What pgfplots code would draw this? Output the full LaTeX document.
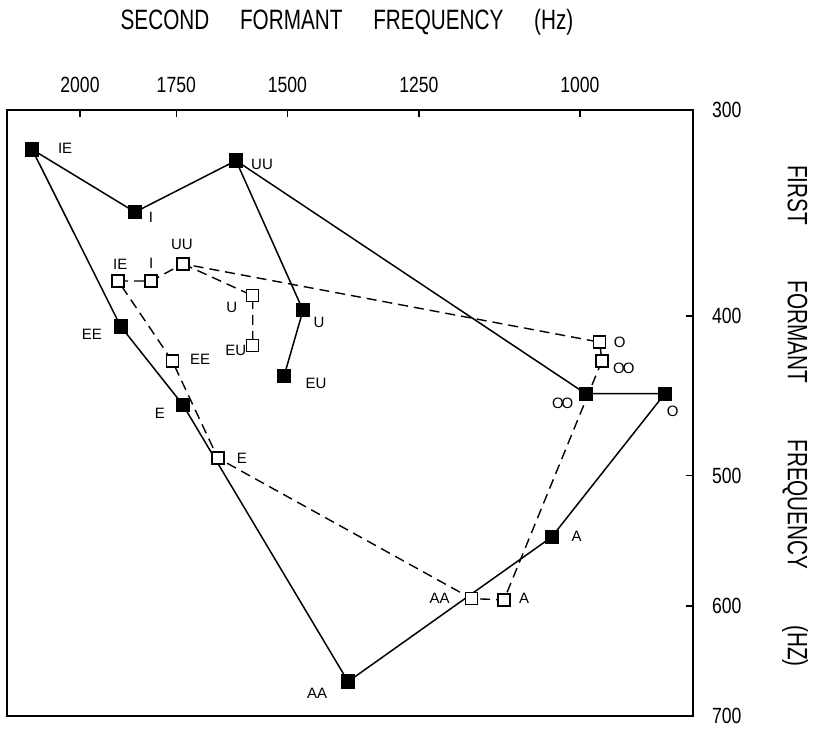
\documentclass[border=0pt]{standalone}
\usepackage{fontspec}
\setmainfont{Liberation Sans}
\newfontfamily\condfont{Liberation Sans}[FakeStretch=0.8]
\newfontfamily\titlefont{Liberation Sans}[FakeStretch=0.74]
\usepackage{pgfplots}
\pgfplotsset{compat=1.18}

\pgfplotsset{
  filled/.style={black, line width=0.75pt, mark=square*, mark size=3.2pt,
    mark options={solid, fill=black}},
  open/.style={black, line width=0.7pt, dash pattern=on 5pt off 3pt,
    mark=square*, mark size=3pt, mark options={solid, fill=white, line width=0.7pt}},
}
\tikzset{lbl/.style={font=\fontsize{7.5}{8}\selectfont, inner sep=0pt}}

\begin{document}
\begin{tikzpicture}[x=1pt,y=1pt]
\path[use as bounding box] (-3.5,-9) rectangle (413.5,358);
\begin{axis}[
    at={(0,0)}, anchor=south west,
    width=343pt, height=303pt, scale only axis,
    xmode=log, ymode=log,
    x dir=reverse, y dir=reverse,
    xmin=855, xmax=2213,
    ymin=300, ymax=700,
    xtick={1000,1250,1500,1750,2000},
    xticklabels={1000,1250,1500,1750,2000},
    ytick={300,400,500,600,700},
    yticklabels={300,400,500,600,700},
    minor xtick={}, minor ytick={},
    xtick pos=right, xticklabel pos=right,
    ytick pos=right, yticklabel pos=right,
    tick align=inside,
    major tick length=3.5pt,
    axis line style={line width=0.75pt},
    every tick/.style={black, line width=0.75pt},
    xticklabel style={font=\condfont\fontsize{11}{11}\selectfont, yshift=5pt},
    yticklabel style={font=\condfont\fontsize{11}{11}\selectfont, xshift=6pt},
    clip=false,
]
% filled squares, solid lines
\addplot[filled] coordinates {
  (2137,317) (1853,346) (1611,322) (992,446) (889,446)
  (1040,545) (1379,667) (1734,453) (1890,406) (2137,317)
};
\addplot[filled] coordinates {
  (1611,322) (1468,397) (1507,435)
};
% open squares, dashed lines
\addplot[open] coordinates {
  (1897,381) (1812,381) (1734,372) (973,415) (970,426)
  (1111,595) (1162,594) (1652,488) (1760,426) (1897,381)
};
\addplot[open] coordinates {
  (1734,372) (1574,389) (1574,417)
};

% labels, filled
\node[lbl, xshift=16.5pt, yshift=0.5pt] at (axis cs:2137,317) {IE};
\node[lbl, xshift=8pt, yshift=-2.5pt] at (axis cs:1853,346) {I};
\node[lbl, xshift=13pt, yshift=-2pt] at (axis cs:1611,322) {UU};
\node[lbl, xshift=8pt, yshift=-6pt] at (axis cs:1468,397) {U};
\node[lbl, xshift=16pt, yshift=-4pt] at (axis cs:1507,435) {EU};
\node[lbl, xshift=-14.5pt, yshift=-4pt] at (axis cs:1890,406) {EE};
\node[lbl, xshift=-11.5pt, yshift=-4.5pt] at (axis cs:1734,453) {E};
\node[lbl, xshift=-15.5pt, yshift=-6pt] at (axis cs:1379,667) {AA};
\node[lbl, xshift=12.5pt, yshift=0.5pt] at (axis cs:1040,545) {A};
\node[lbl, xshift=-11.5pt, yshift=-5pt] at (axis cs:992,446) {O\kern-1pt O};
\node[lbl, xshift=4pt, yshift=-9pt] at (axis cs:889,446) {O};
% labels, open
\node[lbl, xshift=1pt, yshift=8.5pt] at (axis cs:1897,381) {IE};
\node[lbl, xshift=0pt, yshift=9pt] at (axis cs:1812,381) {I};
\node[lbl, xshift=-0.5pt, yshift=9.5pt] at (axis cs:1734,372) {UU};
\node[lbl, xshift=-10.5pt, yshift=-6pt] at (axis cs:1574,389) {U};
\node[lbl, xshift=-8.5pt, yshift=-2.5pt] at (axis cs:1574,417) {EU};
\node[lbl, xshift=14pt, yshift=1pt] at (axis cs:1760,426) {EE};
\node[lbl, xshift=12pt, yshift=0pt] at (axis cs:1652,488) {E};
\node[lbl, xshift=-16pt, yshift=0pt] at (axis cs:1162,594) {AA};
\node[lbl, xshift=10pt, yshift=0.5pt] at (axis cs:1111,595) {A};
\node[lbl, xshift=10pt, yshift=0pt] at (axis cs:973,415) {O};
\node[lbl, xshift=11pt, yshift=-3.5pt] at (axis cs:970,426) {O\kern-1pt O};
\end{axis}

\node[font=\titlefont\fontsize{14}{14}\selectfont] at (170,347)
  {SECOND\hspace{1.1em}FORMANT\hspace{1.1em}FREQUENCY\hspace{1.1em}(Hz)};
\node[font=\titlefont\fontsize{14}{14}\selectfont, rotate=-90] at (394,150)
  {FIRST\hspace{2em}FORMANT\hspace{2em}FREQUENCY\hspace{2em}(HZ)};
\end{tikzpicture}
\end{document}
